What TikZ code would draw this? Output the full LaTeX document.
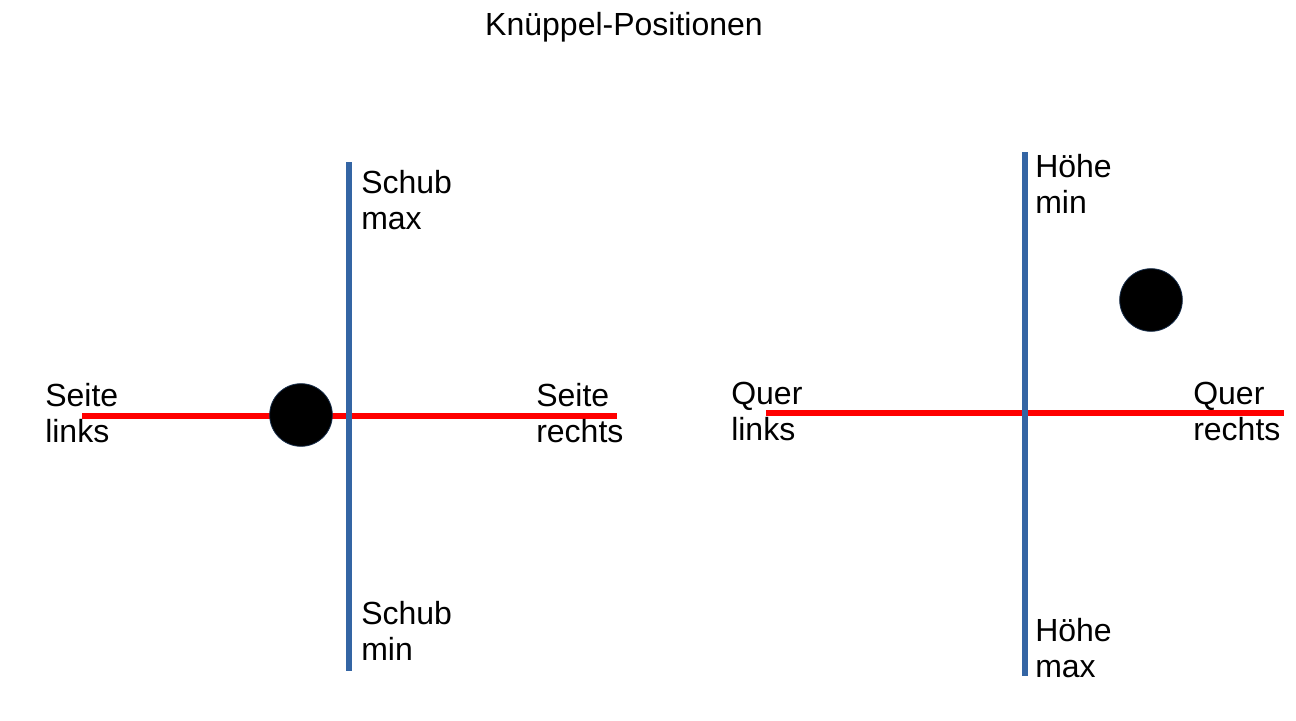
\documentclass[tikz,border=0pt]{standalone}
\usepackage{fontspec}
\setmainfont{Liberation Sans}
\usetikzlibrary{positioning}
\definecolor{StickBlue}{HTML}{3465A4}
\definecolor{StickRed}{HTML}{FF0000}

\begin{document}
\begin{tikzpicture}[
    x=0.75pt, y=-0.75pt,
    quer/.style={draw=StickRed, line width=4pt},
    hoch/.style={draw=StickBlue, line width=3.8pt},
    knopf/.style={
        circle,
        fill=black,
        draw=StickBlue!45!black,
        line width=0.6pt,
        minimum size=47pt,
        inner sep=0pt
    },
    beschr/.style={anchor=north west, inner sep=0pt, align=left,
        font=\fontsize{24}{27}\selectfont}
]
\useasboundingbox (0,0) rectangle (1296,721);

\node[anchor=base, font=\fontsize{24}{28}\selectfont] (titel) at (624,36) {Knüppel-Positionen};

% linker Knueppel
\coordinate (L1) at (82,416);
\coordinate (L2) at (617,416);
\coordinate (L3) at (349,162);
\coordinate (L4) at (349,671);
\draw[quer] (L1) -- (L2);
\draw[hoch] (L3) -- (L4);
\node[knopf] (LK) at (301,415) {};

\node[beschr] (seitel) at (45,383) {Seite\\links};
\node[beschr] (seiter) at (536,383) {Seite\\rechts};
\node[beschr] (schubmax) at (361,170) {Schub\\max};
\node[beschr] (schubmin) at (361,601) {Schub\\min};

% rechter Knueppel
\coordinate (R1) at (766,413);
\coordinate (R2) at (1284,413);
\coordinate (R3) at (1025,152);
\coordinate (R4) at (1025,676);
\draw[quer] (R1) -- (R2);
\draw[hoch] (R3) -- (R4);
\node[knopf] (RK) at (1151,300) {};

\node[beschr] (querl) at (731,382) {Quer\\links};
\node[beschr] (querr) at (1193,382) {Quer\\rechts};
\node[beschr] (hoehemin) at (1035,154) {Höhe\\min};
\node[beschr] (hoehemax) at (1035,618) {Höhe\\max};

\end{tikzpicture}
\end{document}
